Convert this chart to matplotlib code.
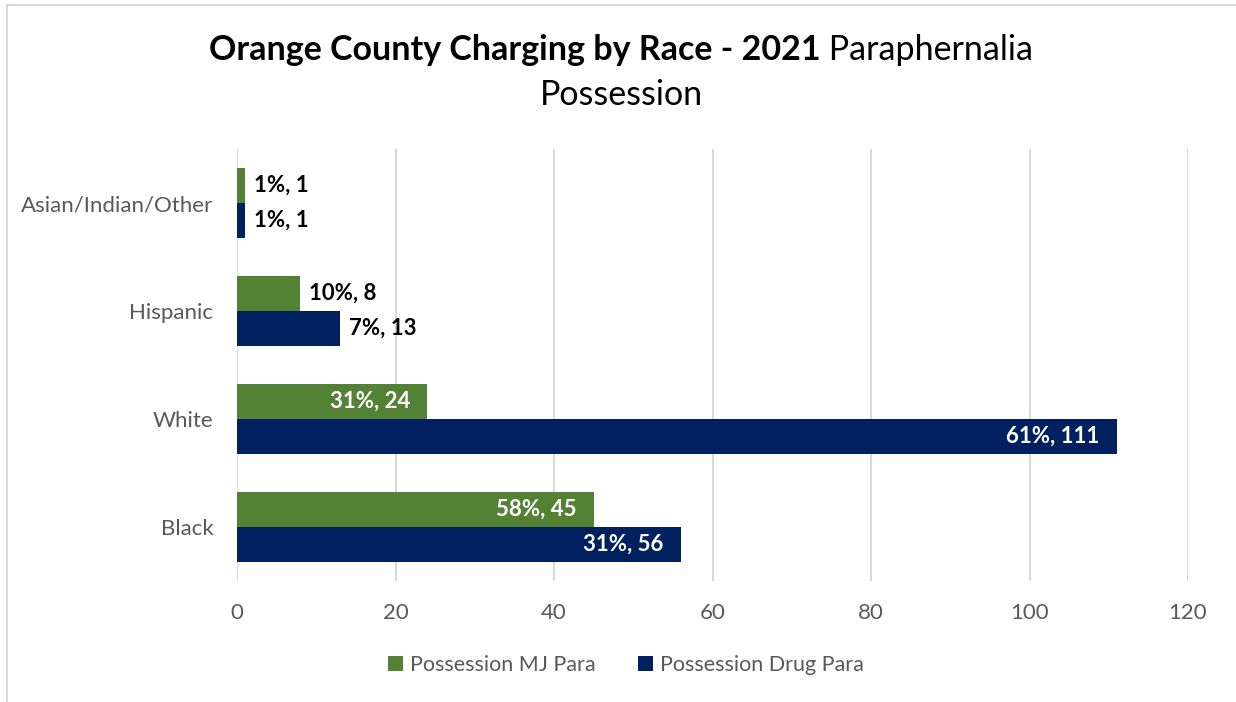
import matplotlib.pyplot as plt
import numpy as np
from matplotlib.patches import Rectangle

plt.rcParams['font.family'] = ['Lato', 'DejaVu Sans']

races = ["Black", "White", "Hispanic", "Asian/Indian/Other"]
mj_para = [45, 24, 8, 1]
drug_para = [56, 111, 13, 1]
mj_pct = ["58%", "31%", "10%", "1%"]
drug_pct = ["31%", "61%", "7%", "1%"]
xticks = [0, 20, 40, 60, 80, 100, 120]

green = "#548235"
navy = "#002060"
gray = "#595959"

fig = plt.figure(figsize=(12.36, 7.02), dpi=100)
ax = fig.add_axes([237 / 1236, 1 - 581 / 702, 951 / 1236, 432 / 702])

# chart border
fig.patches.append(Rectangle((7 / 1236, -0.1), 1.2, 1 - 5 / 702 + 0.1,
                             transform=fig.transFigure, fill=False,
                             edgecolor="#d9d9d9", lw=1.5))

y = np.arange(len(races))
h = 0.325
ax.barh(y + h / 2, mj_para, height=h, color=green, label="Possession MJ Para", zorder=3)
ax.barh(y - h / 2, drug_para, height=h, color=navy, label="Possession Drug Para", zorder=3)

def add_labels(vals, pcts, offs):
    for yi, v, p in zip(y, vals, pcts):
        txt = f"{p}, {v}"
        if v > 20:
            ax.annotate(txt, (v, yi + offs), xytext=(-17, 0), textcoords="offset pixels",
                        ha="right", va="center", color="white", fontsize=16,
                        fontweight="bold", zorder=4)
        else:
            ax.annotate(txt, (v, yi + offs), xytext=(9, 0), textcoords="offset pixels",
                        ha="left", va="center", color="black", fontsize=16,
                        fontweight="bold", zorder=4)

add_labels(mj_para, mj_pct, h / 2)
add_labels(drug_para, drug_pct, -h / 2)

ax.set_xlim(0, 120)
ax.set_ylim(-0.5, 3.5)
ax.set_xticks(xticks)
ax.set_yticks(y)
ax.set_yticklabels(races)
ax.tick_params(axis="both", length=0, labelsize=16, labelcolor=gray)
ax.tick_params(axis="x", pad=16)
ax.tick_params(axis="y", pad=17)
ax.grid(axis="x", color="#d9d9d9", lw=1.5, zorder=0)
for s in ax.spines.values():
    s.set_visible(False)

ax.legend(loc="center", bbox_to_anchor=(626 / 1236, 1 - 665 / 702),
          bbox_transform=fig.transFigure, ncol=2, frameon=False, fontsize=15.5,
          labelcolor=gray, handlelength=0.7, handleheight=0.7, handletextpad=0.3,
          columnspacing=2.0)

# title: bold part + regular part
fig.canvas.draw()
r = fig.canvas.get_renderer()
t1 = fig.text(0, 1 - 50 / 702, "Orange County Charging by Race - 2021", fontsize=24.5,
              fontweight="bold", va="center", ha="left")
t2 = fig.text(0, 1 - 50 / 702, " Paraphernalia", fontsize=24.5, va="center", ha="left")
w1 = t1.get_window_extent(r).width
w2 = t2.get_window_extent(r).width
x0 = (621 - (w1 + w2) / 2) / 1236
t1.set_x(x0)
t2.set_x(x0 + w1 / 1236)
fig.text(621 / 1236, 1 - 95 / 702, "Possession", fontsize=24.5, va="center", ha="center")

fig.savefig("out.png", dpi=100)
